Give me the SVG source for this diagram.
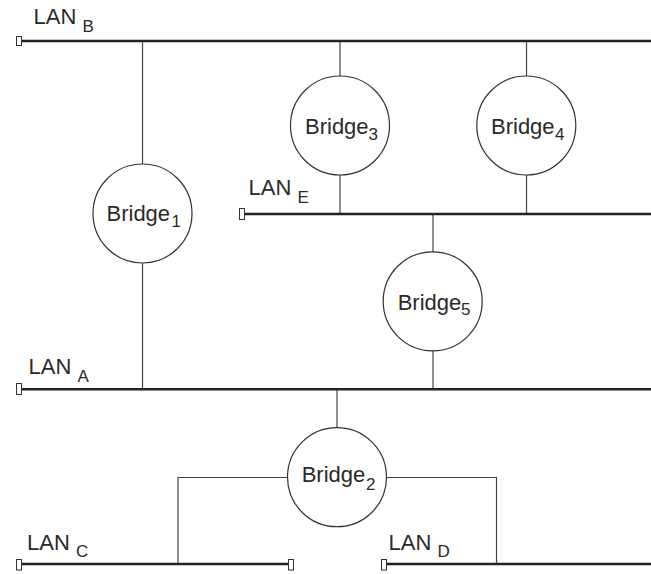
<svg xmlns="http://www.w3.org/2000/svg" width="651" height="574" viewBox="0 0 651 574">
<style>
.lan{stroke:#222;stroke-width:2.5;fill:none}
.link{stroke:#444;stroke-width:1.2;fill:none}
.term{fill:#fff;stroke:#333;stroke-width:1}
.br{fill:#fff;stroke:#333;stroke-width:1.2}
.t{font-family:"Liberation Sans",Arial,sans-serif;font-size:22px;fill:#2a2a2a}
.s{font-size:17px}
</style>
<rect width="651" height="574" fill="#fff"/>
<g id="connectors">
<line class="link" x1="142.5" y1="41" x2="142.5" y2="389"/>
<line class="link" x1="340" y1="41" x2="340" y2="214"/>
<line class="link" x1="526.5" y1="41" x2="526.5" y2="214"/>
<line class="link" x1="433" y1="214" x2="433" y2="389"/>
<line class="link" x1="337" y1="389" x2="337" y2="430"/>
<polyline class="link" points="290,477.5 178,477.5 178,564"/>
<polyline class="link" points="384,477.5 496.5,477.5 496.5,564"/>
</g>
<g id="lan-b">
<line class="lan" x1="21" y1="41" x2="651" y2="41"/>
<rect class="term" x="16.5" y="36.5" width="5" height="9"/>
<text class="t" x="33.5" y="24">LAN <tspan class="s" dy="8">B</tspan></text>
</g>
<g id="lan-e">
<line class="lan" x1="244" y1="214" x2="651" y2="214"/>
<rect class="term" x="239.5" y="208.5" width="5" height="11"/>
<text class="t" x="248.5" y="195">LAN <tspan class="s" dy="8">E</tspan></text>
</g>
<g id="lan-a">
<line class="lan" x1="21" y1="389.3" x2="651" y2="389.3"/>
<rect class="term" x="16.5" y="383.5" width="5" height="11"/>
<text class="t" x="28.5" y="373.5">LAN <tspan class="s" dy="8">A</tspan></text>
</g>
<g id="lan-c">
<line class="lan" x1="21" y1="564" x2="288" y2="564"/>
<rect class="term" x="16.5" y="559.5" width="5" height="10.5"/>
<rect class="term" x="288.5" y="559.5" width="5" height="10.5"/>
<text class="t" x="27" y="549.5">LAN <tspan class="s" dy="7.5">C</tspan></text>
</g>
<g id="lan-d">
<line class="lan" x1="386" y1="564" x2="651" y2="564"/>
<rect class="term" x="381.5" y="559.5" width="5" height="10.5"/>
<text class="t" x="388.5" y="549.5">LAN <tspan class="s" dy="7.5">D</tspan></text>
</g>
<g id="bridge1">
<circle class="br" cx="142.5" cy="213.5" r="49.5"/>
<text class="t" x="106.5" y="221">Bridge<tspan class="s" x="171.5" dy="5.5">1</tspan></text>
</g>
<g id="bridge3">
<circle class="br" cx="340" cy="125.5" r="49.5"/>
<text class="t" x="305" y="134">Bridge<tspan class="s" x="368.5" dy="5.5">3</tspan></text>
</g>
<g id="bridge4">
<circle class="br" cx="526.3" cy="125.5" r="49.5"/>
<text class="t" x="491" y="133.5">Bridge<tspan class="s" x="555" dy="6">4</tspan></text>
</g>
<g id="bridge5">
<circle class="br" cx="432.7" cy="301.3" r="49.5"/>
<text class="t" x="397.7" y="309.5">Bridge<tspan class="s" x="461" dy="5.5">5</tspan></text>
</g>
<g id="bridge2">
<circle class="br" cx="337" cy="477.2" r="49.5"/>
<text class="t" x="301.7" y="482">Bridge<tspan class="s" x="366" dy="8">2</tspan></text>
</g>
</svg>
